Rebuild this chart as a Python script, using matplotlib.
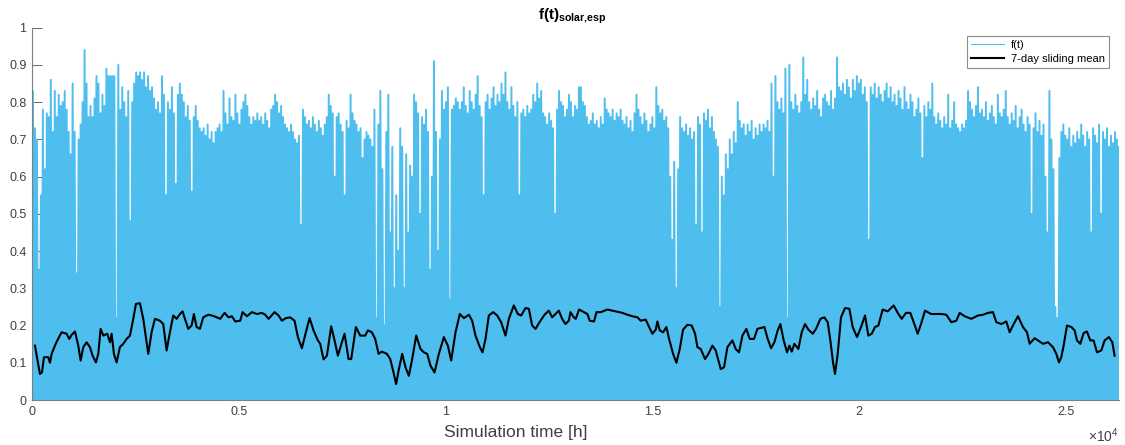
import numpy as np
import matplotlib
matplotlib.use('Agg')
import matplotlib.pyplot as plt

# daily-ish peak of f(t), one value every 48 h (night values are 0)
peak_f = [
    0.83, 0.73, 0.70, 0.35, 0.55, 0.78, 0.62, 0.77, 0.76, 0.86,
    0.72, 0.83, 0.76, 0.82, 0.79, 0.80, 0.83, 0.78, 0.72, 0.66,
    0.85, 0.72, 0.34, 0.70, 0.74, 0.80, 0.94, 0.85, 0.76, 0.79,
    0.76, 0.81, 0.87, 0.85, 0.77, 0.82, 0.79, 0.89, 0.87, 0.87,
    0.87, 0.87, 0.22, 0.90, 0.78, 0.84, 0.80, 0.76, 0.83, 0.48,
    0.80, 0.85, 0.88, 0.87, 0.88, 0.86, 0.88, 0.84, 0.87, 0.83,
    0.84, 0.81, 0.78, 0.80, 0.77, 0.87, 0.82, 0.55, 0.80, 0.78,
    0.84, 0.77, 0.58, 0.82, 0.85, 0.82, 0.80, 0.76, 0.79, 0.75,
    0.56, 0.76, 0.79, 0.75, 0.73, 0.72, 0.73, 0.71, 0.74, 0.70,
    0.72, 0.69,
    0.72, 0.73, 0.74, 0.72, 0.83, 0.77, 0.74, 0.81, 0.76, 0.75,
    0.82, 0.77, 0.74, 0.78, 0.80, 0.82, 0.79, 0.76, 0.74, 0.76,
    0.75, 0.77, 0.75, 0.76, 0.74, 0.77, 0.75, 0.73, 0.78, 0.79,
    0.82, 0.80, 0.77, 0.79, 0.76, 0.74, 0.73, 0.72, 0.74, 0.72,
    0.70, 0.69, 0.71, 0.47, 0.78, 0.76, 0.74, 0.75, 0.73, 0.76,
    0.74, 0.72, 0.75, 0.73, 0.71, 0.74, 0.76, 0.82, 0.79, 0.77,
    0.60, 0.76, 0.77, 0.74, 0.72, 0.55, 0.75, 0.73, 0.82, 0.77,
    0.75, 0.74, 0.72, 0.73, 0.65, 0.70, 0.72, 0.71, 0.70, 0.68,
    0.78, 0.22, 0.74, 0.83, 0.62, 0.20, 0.72, 0.82, 0.45, 0.68,
    0.30, 0.55,
    0.40, 0.73, 0.68, 0.30, 0.66, 0.45, 0.63, 0.60, 0.82, 0.80,
    0.77, 0.50, 0.76, 0.74, 0.78, 0.72, 0.35, 0.60, 0.91, 0.72,
    0.40, 0.70, 0.83, 0.78, 0.80, 0.84, 0.27, 0.78, 0.79, 0.81,
    0.80, 0.78, 0.80, 0.84, 0.79, 0.77, 0.83, 0.80, 0.78, 0.82,
    0.87, 0.79, 0.76, 0.55, 0.80, 0.82, 0.78, 0.81, 0.84, 0.79,
    0.82, 0.80, 0.85, 0.82, 0.88, 0.80, 0.78, 0.84, 0.79, 0.76,
    0.80, 0.55, 0.77, 0.78, 0.76, 0.79, 0.77, 0.78, 0.82, 0.80,
    0.85, 0.81, 0.83, 0.77, 0.76, 0.74, 0.77, 0.75, 0.73, 0.50,
    0.78, 0.83, 0.80, 0.79, 0.76, 0.78, 0.82, 0.80, 0.76, 0.79,
    0.78, 0.84,
    0.84, 0.80, 0.79, 0.76, 0.74, 0.75, 0.77, 0.74, 0.75, 0.73,
    0.76, 0.74, 0.81, 0.78, 0.77, 0.76, 0.78, 0.75, 0.77, 0.76,
    0.78, 0.75, 0.74, 0.76, 0.73, 0.75, 0.72, 0.77, 0.82, 0.78,
    0.76, 0.74, 0.77, 0.75, 0.72, 0.74, 0.76, 0.73, 0.84, 0.79,
    0.77, 0.78, 0.75, 0.76, 0.73, 0.60, 0.43, 0.64, 0.30, 0.62,
    0.76, 0.73, 0.72, 0.74, 0.71, 0.73, 0.70, 0.72, 0.47, 0.76,
    0.74, 0.45, 0.77, 0.75, 0.78, 0.73, 0.76, 0.72, 0.70, 0.68,
    0.25, 0.60, 0.55, 0.66, 0.62, 0.70, 0.66, 0.72, 0.69, 0.80,
    0.75, 0.73, 0.74, 0.71, 0.74, 0.72, 0.75, 0.70, 0.73, 0.71,
    0.74, 0.72,
    0.74, 0.73, 0.75, 0.72, 0.85, 0.60, 0.87, 0.80, 0.78, 0.81,
    0.77, 0.89, 0.22, 0.90, 0.80, 0.78, 0.82, 0.79, 0.77, 0.80,
    0.92, 0.82, 0.86, 0.80, 0.78, 0.81, 0.79, 0.83, 0.78, 0.76,
    0.81, 0.82, 0.80, 0.79, 0.83, 0.78, 0.81, 0.92, 0.84, 0.83,
    0.85, 0.82, 0.86, 0.84, 0.81, 0.86, 0.83, 0.87, 0.85, 0.86,
    0.82, 0.84, 0.80, 0.43, 0.84, 0.82, 0.85, 0.81, 0.84, 0.82,
    0.80, 0.83, 0.85, 0.81, 0.84, 0.80, 0.82, 0.79, 0.83, 0.81,
    0.78, 0.84, 0.80, 0.78, 0.82, 0.80, 0.76, 0.78, 0.81, 0.77,
    0.65, 0.79, 0.76, 0.80, 0.78, 0.85, 0.76, 0.74, 0.77, 0.75,
    0.73, 0.76,
    0.74, 0.82, 0.73, 0.75, 0.80, 0.74, 0.73, 0.72, 0.74, 0.73,
    0.75, 0.83, 0.80, 0.78, 0.76, 0.79, 0.84, 0.77, 0.78, 0.76,
    0.80, 0.75, 0.77, 0.79, 0.76, 0.74, 0.82, 0.77, 0.76, 0.78,
    0.83, 0.76, 0.74, 0.77, 0.75, 0.79, 0.73, 0.76, 0.78, 0.74,
    0.72, 0.76, 0.74, 0.50, 0.73, 0.77, 0.72, 0.75, 0.71, 0.74,
    0.60, 0.45, 0.83, 0.70, 0.62, 0.25, 0.22, 0.65, 0.72, 0.74,
    0.71, 0.70, 0.73, 0.68, 0.71, 0.69, 0.72, 0.70, 0.74, 0.71,
    0.68, 0.72, 0.70, 0.45, 0.73, 0.71, 0.69, 0.74, 0.50, 0.72,
    0.70, 0.73, 0.68, 0.71, 0.69, 0.72, 0.70, 0.68,
]

# 7-day sliding mean: time [h] and value
mean_t = [
    73, 129, 194, 242, 290, 395, 435, 476, 556, 613, 717, 838, 903, 959, 1040,
    1120, 1177, 1241, 1322, 1402, 1467, 1547, 1604, 1660, 1725, 1821, 1886, 1926,
    1982, 2047, 2127, 2208, 2288, 2369, 2450, 2514, 2611, 2691, 2812, 2893, 2973,
    3094, 3175, 3255, 3336, 3416, 3497, 3578, 3642, 3698, 3779, 3860, 3916, 3980,
    4061, 4142, 4262,
    4351, 4472, 4552, 4657, 4754, 4834, 4915, 5036, 5092, 5197, 5318, 5439, 5560,
    5640, 5721, 5866, 5962, 6043, 6140, 6244, 6349, 6430, 6526, 6623, 6712, 6808,
    6913, 6969, 7050, 7131, 7235, 7316, 7397, 7493, 7558, 7654, 7719, 7832, 7936,
    8057, 8122, 8218, 8299, 8380, 8460, 8581, 8662, 8742, 8805,
    8871, 8951, 9032, 9113, 9193, 9290, 9395, 9475, 9556, 9636, 9733, 9838, 9959,
    10055, 10136, 10241, 10345, 10442, 10563, 10643, 10724, 10829, 10893, 10966,
    11046, 11151, 11248, 11344, 11449, 11530, 11651, 11747, 11828, 11933, 12013,
    12094, 12174, 12295, 12392, 12497, 12577, 12738, 12819, 12899, 12980, 13020,
    13101,
    13148, 13229, 13349, 13430, 13486, 13591, 13648, 13752, 13913, 14115, 14276,
    14397, 14518, 14639, 14719, 14840, 14921, 15001, 15082, 15122, 15178, 15259,
    15339, 15404, 15501, 15581, 15662, 15742, 15847, 15952, 16032, 16089, 16169,
    16274, 16355, 16451, 16532, 16653, 16733, 16814, 16935, 17015, 17096, 17177,
    17273, 17354, 17458, 17539,
    17708, 17789, 17869, 17950, 18030, 18095, 18175, 18256, 18312, 18369, 18433,
    18530, 18611, 18691, 18772, 18877, 18957, 19062, 19158, 19239, 19303, 19368,
    19416, 19481, 19561, 19658, 19763, 19843, 19948, 20045, 20141, 20222, 20303,
    20383, 20464, 20568, 20689, 20834, 20931, 21028, 21132, 21237, 21334, 21414,
    21495, 21592, 21737, 21994,
    22107, 22228, 22349, 22429, 22550, 22711, 22873, 22993, 23114, 23235, 23316,
    23437, 23557, 23638, 23735, 23839, 23960, 24057, 24121, 24242, 24323, 24444,
    24565, 24685, 24766, 24830, 24887, 24943, 25024, 25129, 25209, 25266, 25346,
    25427, 25507, 25588, 25668, 25749, 25854, 25934, 26039, 26120, 26176,
]
mean_v = [
    0.146, 0.110, 0.070, 0.074, 0.115, 0.115, 0.100, 0.124, 0.146, 0.160,
    0.182, 0.178, 0.164, 0.175, 0.184, 0.146, 0.106, 0.142, 0.155, 0.142,
    0.119, 0.101, 0.124, 0.191, 0.173, 0.178, 0.155, 0.178, 0.124, 0.101,
    0.142, 0.151, 0.164, 0.173, 0.218, 0.258, 0.260, 0.218, 0.124, 0.182,
    0.218, 0.213, 0.204, 0.133, 0.182, 0.227, 0.218, 0.231, 0.238, 0.218,
    0.191, 0.200, 0.231, 0.196, 0.191, 0.222, 0.229,
    0.227, 0.222, 0.218, 0.234, 0.222, 0.225, 0.211, 0.213, 0.236, 0.225,
    0.236, 0.231, 0.234, 0.229, 0.218, 0.236, 0.227, 0.213, 0.220, 0.222,
    0.213, 0.169, 0.139, 0.182, 0.220, 0.187, 0.160, 0.151, 0.109, 0.119,
    0.198, 0.160, 0.119, 0.155, 0.178, 0.110, 0.110, 0.196, 0.173, 0.173,
    0.187, 0.182, 0.164, 0.124, 0.130, 0.124, 0.110, 0.074, 0.043,
    0.083, 0.124, 0.088, 0.065, 0.110, 0.173, 0.137, 0.128, 0.124, 0.092,
    0.074, 0.124, 0.169, 0.146, 0.106, 0.182, 0.231, 0.220, 0.229, 0.213,
    0.173, 0.142, 0.128, 0.164, 0.227, 0.236, 0.227, 0.209, 0.173, 0.218,
    0.254, 0.231, 0.227, 0.247, 0.245, 0.200, 0.191, 0.213, 0.229, 0.240,
    0.222, 0.240, 0.218, 0.204, 0.213, 0.236, 0.222,
    0.218, 0.243, 0.236, 0.231, 0.213, 0.211, 0.236, 0.236, 0.243, 0.238,
    0.234, 0.229, 0.225, 0.222, 0.213, 0.216, 0.196, 0.178, 0.189, 0.211,
    0.187, 0.182, 0.196, 0.164, 0.124, 0.100, 0.137, 0.189, 0.202, 0.200,
    0.178, 0.142, 0.137, 0.110, 0.124, 0.146, 0.133, 0.083, 0.088, 0.142,
    0.160, 0.137, 0.128, 0.173, 0.191, 0.164, 0.164, 0.191,
    0.196, 0.164, 0.139, 0.155, 0.187, 0.204, 0.160, 0.128, 0.146, 0.130,
    0.151, 0.137, 0.182, 0.204, 0.189, 0.178, 0.191, 0.218, 0.222, 0.209,
    0.160, 0.101, 0.070, 0.124, 0.222, 0.247, 0.245, 0.196, 0.169, 0.196,
    0.227, 0.173, 0.178, 0.196, 0.200, 0.243, 0.238, 0.254, 0.234, 0.218,
    0.234, 0.234, 0.204, 0.178, 0.204, 0.240, 0.231, 0.231,
    0.229, 0.209, 0.213, 0.234, 0.225, 0.218, 0.227, 0.229, 0.234, 0.236,
    0.209, 0.204, 0.211, 0.182, 0.204, 0.225, 0.196, 0.182, 0.151, 0.166,
    0.160, 0.151, 0.155, 0.142, 0.124, 0.101, 0.115, 0.146, 0.200, 0.196,
    0.187, 0.160, 0.151, 0.180, 0.184, 0.160, 0.160, 0.128, 0.133, 0.160,
    0.169, 0.155, 0.119,
]

x_ticks = [0, 5000, 10000, 15000, 20000, 25000]
x_tick_labels = ['0', '0.5', '1', '1.5', '2', '2.5']
y_ticks = [0, 0.1, 0.2, 0.3, 0.4, 0.5, 0.6, 0.7, 0.8, 0.9, 1]
y_tick_labels = ['0', '0.1', '0.2', '0.3', '0.4', '0.5', '0.6', '0.7', '0.8', '0.9', '1']

plt.rcParams['font.family'] = ['Liberation Sans', 'DejaVu Sans']
plt.rcParams['mathtext.fontset'] = 'custom'
plt.rcParams['mathtext.rm'] = 'Liberation Sans'
plt.rcParams['mathtext.bf'] = 'Liberation Sans:bold'

# hourly-like series: 0 at night, peak in the middle of the day
f_vals = np.zeros(2 * len(peak_f) + 1)
f_vals[1::2] = peak_f
f_hours = np.arange(len(f_vals)) * 24

fig = plt.figure(figsize=(11.25, 4.45), dpi=100)
ax = fig.add_axes([0.0284, 0.1011, 0.9662, 0.8367])

ax.plot(f_hours, f_vals, color='#4DBEEE', lw=1.4, label='f(t)')
ax.plot(mean_t, mean_v, color='black', lw=1.5, label='7-day sliding mean')

ax.set_xlim(0, 26280)
ax.set_ylim(0, 1)
ax.set_xticks(x_ticks)
ax.set_xticklabels(x_tick_labels)
ax.set_yticks(y_ticks)
ax.set_yticklabels(y_tick_labels)
ax.tick_params(direction='in', length=7, width=0.6, color='#4d4d4d',
               labelsize=9, labelcolor='#404040', pad=4)
ax.set_axisbelow(True)

for side in ['top', 'right']:
    ax.spines[side].set_visible(False)
for side in ['left', 'bottom']:
    ax.spines[side].set_color('#7f7f7f')
    ax.spines[side].set_linewidth(0.8)

ax.set_xlabel('Simulation time [h]', fontsize=12.5, color='#404040')
ax.xaxis.set_label_coords(0.445, -0.068)
ax.text(1.0, -0.07, r'$\times\mathregular{10^{4}}$', transform=ax.transAxes,
        ha='right', va='top', fontsize=10, color='#404040')

ax.set_title('f(t)$_{\\mathbf{solar{,}esp}}$', fontweight='bold', fontsize=11,
             color='black', x=0.497, pad=6)

leg = ax.legend(loc='upper right', bbox_to_anchor=(0.9908, 0.9766),
                borderaxespad=0, fancybox=False, framealpha=1,
                edgecolor='#8c8c8c', fontsize=8, handlelength=3.0,
                borderpad=0.35, labelspacing=0.35, handletextpad=0.6)
leg.get_frame().set_linewidth(0.8)
leg.get_lines()[0].set_linewidth(0.8)

fig.savefig('out.png', dpi=100)
